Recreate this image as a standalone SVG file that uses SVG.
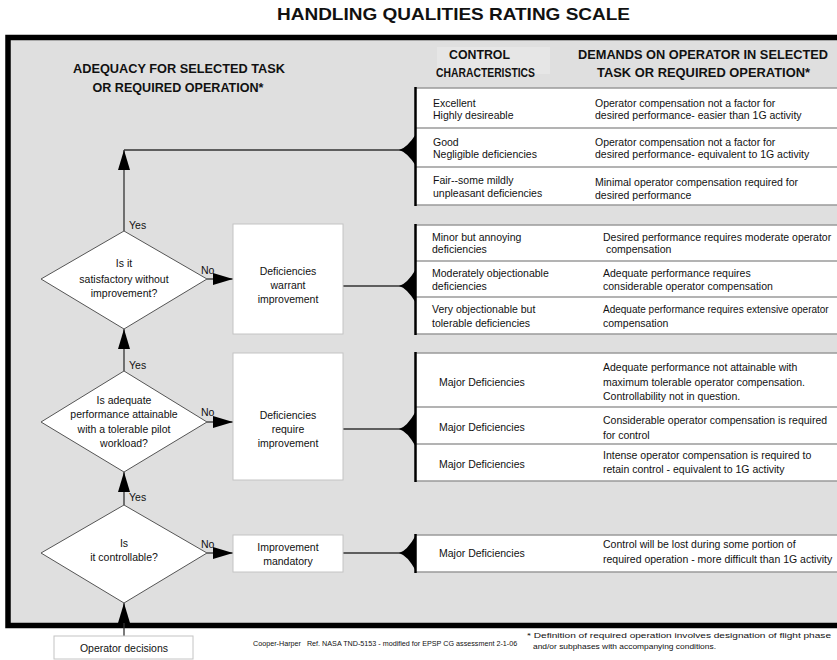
<svg xmlns="http://www.w3.org/2000/svg" width="837" height="660" viewBox="0 0 837 660">
<defs>
<style>
text{font-family:"Liberation Sans",Arial,sans-serif;fill:#111}
.t{font-size:10.5px}
.f{font-size:10.5px;text-anchor:middle}
.lbl{font-size:10.5px}
.h{font-weight:bold;font-size:12.5px;text-anchor:middle}
.cell{fill:#fff;stroke:none}
.div{stroke:#9a9a9a;stroke-width:1.5;fill:none}
.spine{stroke:#000;stroke-width:2.5}
.brace{fill:#000}
.box{fill:#fff;stroke:#c4c4c4;stroke-width:1}
.dia{fill:#fff;stroke:#555;stroke-width:1}
.conn{stroke:#333;stroke-width:1.3;fill:none}
.foot{font-size:7.2px}
.note{font-size:7.5px}
</style>
<marker id="ah" viewBox="0 0 20 12" refX="20" refY="6" markerWidth="20" markerHeight="12" markerUnits="userSpaceOnUse" orient="auto">
<path d="M0,0 L20,6 L0,12 Z" fill="#000"/>
</marker>
</defs>
<rect x="0" y="0" width="837" height="660" fill="#fff"/>
<text x="453.5" y="20" style="font-size:17px;font-weight:bold;text-anchor:middle" textLength="353" lengthAdjust="spacingAndGlyphs">HANDLING QUALITIES RATING SCALE</text>
<rect id="frame" x="8" y="37.5" width="900" height="588" fill="#dfdfdf" stroke="#000" stroke-width="5.5"/>
<rect x="437" y="47" width="113" height="27" fill="#e6e6e6"/>
<g id="headers">
<text class="h" x="179" y="72.5" textLength="212" lengthAdjust="spacingAndGlyphs">ADEQUACY FOR SELECTED TASK</text>
<text class="h" x="178" y="91.5" textLength="171" lengthAdjust="spacingAndGlyphs">OR REQUIRED OPERATION*</text>
<text class="h" x="479.5" y="59" textLength="61" lengthAdjust="spacingAndGlyphs">CONTROL</text>
<text class="h" x="485.5" y="77" style="font-size:12px" textLength="99" lengthAdjust="spacingAndGlyphs">CHARACTERISTICS</text>
<text class="h" x="703" y="59" textLength="250" lengthAdjust="spacingAndGlyphs">DEMANDS ON OPERATOR IN SELECTED</text>
<text class="h" x="703.5" y="77" textLength="213" lengthAdjust="spacingAndGlyphs">TASK OR REQUIRED OPERATION*</text>
</g>
<g id="connectors">
<line class="conn" x1="124" y1="231" x2="124" y2="150" marker-end="url(#ah)"/>
<line class="conn" x1="124" y1="150" x2="401" y2="150"/>
<line class="conn" x1="124" y1="371" x2="124" y2="329" marker-end="url(#ah)"/>
<line class="conn" x1="124" y1="505" x2="124" y2="472" marker-end="url(#ah)"/>
<line class="conn" x1="124" y1="636" x2="124" y2="603" marker-end="url(#ah)"/>
<line class="conn" x1="207" y1="279" x2="233" y2="279" marker-end="url(#ah)"/>
<line class="conn" x1="207" y1="422" x2="233" y2="422" marker-end="url(#ah)"/>
<line class="conn" x1="207" y1="553" x2="233" y2="553" marker-end="url(#ah)"/>
<line class="conn" x1="343" y1="286" x2="401" y2="286"/>
<line class="conn" x1="343" y1="429" x2="401" y2="429"/>
<line class="conn" x1="343" y1="553" x2="401" y2="553"/>
<text class="lbl" x="129" y="229">Yes</text>
<text class="lbl" x="129" y="369">Yes</text>
<text class="lbl" x="129" y="501">Yes</text>
<text class="lbl" x="201" y="274">No</text>
<text class="lbl" x="201" y="416">No</text>
<text class="lbl" x="201" y="548">No</text>
</g>
<g id="q1">
<polygon class="dia" points="124,231 207,279 124,329 41,279"/>
<text class="f" x="124" y="267">Is it</text>
<text class="f" x="124" y="283">satisfactory without</text>
<text class="f" x="124" y="297">improvement?</text>
</g>
<g id="q2">
<polygon class="dia" points="124,371 207,422 124,472 41,422"/>
<text class="f" x="124" y="404">Is adequate</text>
<text class="f" x="124" y="418">performance attainable</text>
<text class="f" x="124" y="433">with a tolerable pilot</text>
<text class="f" x="124" y="447">workload?</text>
</g>
<g id="q3">
<polygon class="dia" points="124,505 207,553 124,603 41,553"/>
<text class="f" x="124" y="547">Is</text>
<text class="f" x="124" y="561">it controllable?</text>
</g>
<g id="b1">
<rect class="box" x="233" y="224" width="110" height="110"/>
<text class="f" x="288" y="275">Deficiencies</text>
<text class="f" x="288" y="289">warrant</text>
<text class="f" x="288" y="303">improvement</text>
</g>
<g id="b2">
<rect class="box" x="233" y="353" width="110" height="127"/>
<text class="f" x="288" y="419">Deficiencies</text>
<text class="f" x="288" y="433">require</text>
<text class="f" x="288" y="447">improvement</text>
</g>
<g id="b3">
<rect class="box" x="233" y="535" width="110" height="37"/>
<text class="f" x="288" y="551">Improvement</text>
<text class="f" x="288" y="565">mandatory</text>
</g>
<g id="operator">
<rect class="box" x="54" y="636" width="139" height="23" stroke="#999"/>
<text class="f" x="124" y="652">Operator decisions</text>
</g>
<g id="table1">
<rect class="cell" x="416" y="88" width="430" height="117"/>
<path class="div" d="M416,88 H846 M416,128 H846 M416,167 H846 M416,205 H846"/>
<line class="spine" x1="415.5" y1="87" x2="415.5" y2="206"/>
<path class="brace" d="M416,134 Q407,148 399,150 Q407,152 416,166 Z"/>
<text class="t" x="433" y="106.5">Excellent</text>
<text class="t" x="433" y="118.5">Highly desireable</text>
<text class="t" x="433" y="145.5">Good</text>
<text class="t" x="433" y="157.5">Negligible deficiencies</text>
<text class="t" x="433" y="183.5">Fair--some mildly</text>
<text class="t" x="433" y="196.5">unpleasant deficiencies</text>
<text class="t" x="595" y="106.5">Operator compensation not a factor for</text>
<text class="t" x="595" y="118.5">desired performance- easier than 1G activity</text>
<text class="t" x="595" y="145.5">Operator compensation not a factor for</text>
<text class="t" x="595" y="157.5">desired performance- equivalent to 1G activity</text>
<text class="t" x="595" y="186">Minimal operator compensation required for</text>
<text class="t" x="595" y="199">desired performance</text>
</g>
<g id="table2">
<rect class="cell" x="416" y="225" width="430" height="109"/>
<path class="div" d="M416,225 H846 M416,261 H846 M416,297 H846 M416,334 H846"/>
<line class="spine" x1="415.5" y1="224" x2="415.5" y2="335"/>
<path class="brace" d="M416,269 Q407,284 399,286 Q407,288 416,303 Z"/>
<text class="t" x="432" y="240.5">Minor but annoying</text>
<text class="t" x="432" y="252.5">deficiencies</text>
<text class="t" x="432" y="276.5">Moderately objectionable</text>
<text class="t" x="432" y="289.5">deficiencies</text>
<text class="t" x="432" y="312.5">Very objectionable but</text>
<text class="t" x="432" y="326.5">tolerable deficiencies</text>
<text class="t" x="603" y="240.5">Desired performance requires moderate operator</text>
<text class="t" x="606" y="252.5">compensation</text>
<text class="t" x="603" y="276.5">Adequate performance requires</text>
<text class="t" x="603" y="289.5">considerable operator compensation</text>
<text class="t" x="603" y="312.5" style="font-size:10px">Adequate performance requires extensive operator</text>
<text class="t" x="603" y="326.5">compensation</text>
</g>
<g id="table3">
<rect class="cell" x="416" y="353" width="430" height="128"/>
<path class="div" d="M416,353 H846 M416,407 H846 M416,444 H846 M416,481 H846"/>
<line class="spine" x1="415.5" y1="352" x2="415.5" y2="482"/>
<path class="brace" d="M416,411 Q407,427 399,429 Q407,431 416,447 Z"/>
<text class="t" x="439" y="385.5">Major Deficiencies</text>
<text class="t" x="439" y="430.5">Major Deficiencies</text>
<text class="t" x="439" y="467.5">Major Deficiencies</text>
<text class="t" x="603" y="370.5">Adequate performance not attainable with</text>
<text class="t" x="603" y="385.5">maximum tolerable operator compensation.</text>
<text class="t" x="603" y="399.5">Controllability not in question.</text>
<text class="t" x="603" y="423.5">Considerable operator compensation is required</text>
<text class="t" x="603" y="438.5">for control</text>
<text class="t" x="603" y="458.5">Intense operator compensation is required to</text>
<text class="t" x="603" y="472.5">retain control - equivalent to 1G activity</text>
</g>
<g id="table4">
<rect class="cell" x="416" y="535" width="430" height="37"/>
<path class="div" d="M416,535 H846 M416,572 H846"/>
<line class="spine" x1="415.5" y1="534" x2="415.5" y2="573"/>
<path class="brace" d="M416,535 Q407,551 399,553 Q407,555 416,571 Z"/>
<text class="t" x="439" y="556.5">Major Deficiencies</text>
<text class="t" x="603" y="547.5">Control will be lost during some portion of</text>
<text class="t" x="603" y="562.5">required operation - more difficult than 1G activity</text>
</g>
<g id="footer">
<text class="foot" x="253" y="646" xml:space="preserve">Cooper-Harper   Ref. NASA TND-5153 - modified for EPSP CG assessment 2-1-06</text>
<text class="note" x="527" y="638" textLength="304" lengthAdjust="spacingAndGlyphs">* Definition of required operation involves designation of flight phase</text>
<text class="note" x="533" y="648.5" textLength="183" lengthAdjust="spacingAndGlyphs">and/or subphases with accompanying conditions.</text>
</g>
</svg>
